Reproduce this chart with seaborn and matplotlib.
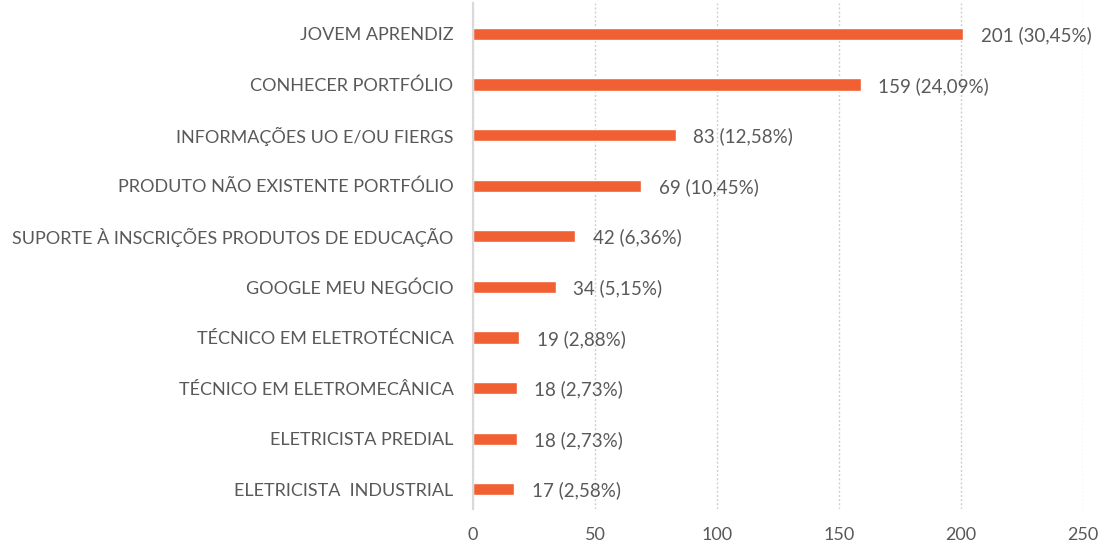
import pandas as pd
import seaborn as sns
import matplotlib.pyplot as plt

# Data
categorias = [
    "JOVEM APRENDIZ",
    "CONHECER PORTFÓLIO",
    "INFORMAÇÕES UO E/OU FIERGS",
    "PRODUTO NÃO EXISTENTE PORTFÓLIO",
    "SUPORTE À INSCRIÇÕES PRODUTOS DE EDUCAÇÃO",
    "GOOGLE MEU NEGÓCIO",
    "TÉCNICO EM ELETROTÉCNICA",
    "TÉCNICO EM ELETROMECÂNICA",
    "ELETRICISTA PREDIAL",
    "ELETRICISTA  INDUSTRIAL",
]
valores = [201, 159, 83, 69, 42, 34, 19, 18, 18, 17]
rotulos = ["201 (30,45%)", "159 (24,09%)", "83 (12,58%)", "69 (10,45%)", "42 (6,36%)",
           "34 (5,15%)", "19 (2,88%)", "18 (2,73%)", "18 (2,73%)", "17 (2,58%)"]
ticks_x = [0, 50, 100, 150, 200, 250]

df = pd.DataFrame({"categoria": categorias, "valor": valores})

sns.set_style("white")
plt.rcParams['font.family'] = ['Lato', 'DejaVu Sans']
cor_texto = "#595959"

fig = plt.figure(figsize=(10.99, 5.44), dpi=100)
ax = fig.add_axes([0.4304, 0.0643, 0.5550, 0.9302])

sns.barplot(data=df, x="valor", y="categoria", color="#F06033", width=0.24,
            saturation=1, ax=ax)

for i, (v, txt) in enumerate(zip(valores, rotulos)):
    ax.annotate(txt, (v, i), xytext=(12.5, -1), textcoords="offset points",
                va="center", ha="left", fontsize=13.5, color=cor_texto)

ax.set_xlim(0, 250)
ax.set_ylim(9.39, -0.61)
ax.set_xticks(ticks_x)
ax.set_xlabel("")
ax.set_ylabel("")
ax.xaxis.grid(True, linestyle=(0, (1.5, 1.5)), color="#CFCFCF", linewidth=1)
ax.set_axisbelow(True)
for s in ["top", "right", "bottom"]:
    ax.spines[s].set_visible(False)
ax.spines["left"].set_color("#D9D9D9")
ax.spines["left"].set_linewidth(1.5)
ax.tick_params(axis="both", length=0, labelsize=13, labelcolor=cor_texto)
ax.tick_params(axis="y", pad=14)
ax.tick_params(axis="x", pad=13)

plt.savefig("out.png", dpi=100)
